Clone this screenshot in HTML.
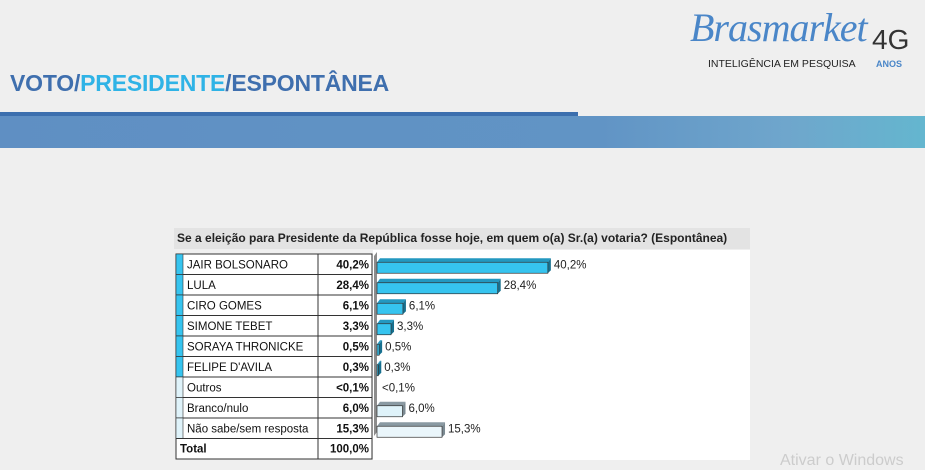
<!DOCTYPE html>
<html><head><meta charset="utf-8"><style>
body{margin:0;width:925px;height:467px;overflow:hidden;background:#efefef;font-family:"Liberation Sans",sans-serif;position:relative}
.t{position:absolute}
</style></head><body>
<div class="t" style="left:10px;top:70px;font-size:23px;font-weight:bold;color:#3f6fae;letter-spacing:-0.2px">VOTO/<span style="color:#2fb3e6">PRESIDENTE</span>/ESPONTÂNEA</div>
<div class="t" style="left:690px;top:4px;font-size:40px;font-style:italic;color:#4a86c8;font-family:'Liberation Serif',serif;letter-spacing:-1px">Brasmarket</div>
<div class="t" style="left:872px;top:24px;font-size:28px;color:#333">4G</div>
<div class="t" style="left:708px;top:58px;font-size:10.5px;color:#222">INTELIGÊNCIA EM PESQUISA</div>
<div class="t" style="left:876px;top:59px;font-size:9px;color:#4a86c8;font-weight:bold">ANOS</div>
<div class="t" style="left:0;top:112px;width:578px;height:5px;background:#3c6fae"></div>
<div class="t" style="left:0;top:116px;width:925px;height:32px;background:linear-gradient(90deg,#5f8fc3 0%,#6194c5 65%,#6fa6cc 85%,#64b6cf 100%)"></div>
<div class="t" style="left:174px;top:228px;width:576px;height:21px;background:#e3e3e3"></div>
<div class="t" style="left:177px;top:231px;font-size:12px;font-weight:bold;color:#222">Se a eleição para Presidente da República fosse hoje, em quem o(a) Sr.(a) votaria? (Espontânea)</div>
<div class="t" style="left:373px;top:250px;width:377px;height:210px;background:#fff"></div>
<svg class="t" style="left:0;top:0" width="925" height="467" font-family="Liberation Sans, sans-serif" font-size="11.5">
<g id="tab"></g>
</svg>
<script>
(function(){
const rows=[["JAIR BOLSONARO","40,2%",40.2,"#36c4ef"],["LULA","28,4%",28.4,"#36c4ef"],["CIRO GOMES","6,1%",6.1,"#36c4ef"],["SIMONE TEBET","3,3%",3.3,"#36c4ef"],["SORAYA THRONICKE","0,5%",0.5,"#36c4ef"],["FELIPE D'AVILA","0,3%",0.3,"#36c4ef"],["Outros","<0,1%",0,"#dff3fa"],["Branco/nulo","6,0%",6.0,"#dff3fa"],["Não sabe/sem resposta","15,3%",15.3,"#eaf6fb"]];
let s='';const T=254,h=20.5;
s+=`<rect x="176" y="${T}" width="196" height="${h*10}" fill="#fff" stroke="#333"/>`;
s+=`<polygon points="374,256 377,252 377,432 374,436" fill="#8c8c8c"/>`;
rows.forEach((r,i)=>{const y=T+i*h,c=y+h/2;
s+=`<rect x="176" y="${y}" width="7" height="${h}" fill="${i<6?'#36c4ef':'#dff3fa'}" stroke="#333" stroke-width="0.6"/>`;
s+=`<line x1="176" y1="${y+h}" x2="372" y2="${y+h}" stroke="#333"/>`;
s+=`<text x="187" y="${c+4}" fill="#111">${r[0].replace('<','&lt;')}</text>`;
s+=`<text x="369" y="${c+4}" text-anchor="end" font-weight="bold" fill="#111">${r[1].replace('<','&lt;')}</text>`;
const w=r[2]*4.25,bx=377;
if(w>0){s+=`<polygon points="${bx},${c-2} ${bx+3},${c-6} ${bx+w+3},${c-6} ${bx+w},${c-2}" fill="${i<6?'#2398c0':'#8a9aa3'}"/>`;
s+=`<polygon points="${bx+w},${c-2} ${bx+w+3},${c-6} ${bx+w+3},${c+6} ${bx+w},${c+9}" fill="${i<6?'#17708f':'#7b8a92'}"/>`;
s+=`<rect x="${bx}" y="${c-2}" width="${w}" height="11" fill="${r[3]}" stroke="#333" stroke-width="0.7"/>`;}
s+=`<text x="${bx+w+(w>0?6:5)}" y="${c+4}" fill="#222">${r[1].replace('<','&lt;')}</text>`;
});
const ty=T+9*h;
s+=`<text x="180" y="${ty+14}" font-weight="bold" fill="#111">Total</text><text x="369" y="${ty+14}" text-anchor="end" font-weight="bold" fill="#111">100,0%</text>`;
s+=`<line x1="318" y1="${T}" x2="318" y2="${T+h*10}" stroke="#333"/>`;
document.getElementById('tab').innerHTML=s;
})();
</script>
<div class="t" style="left:780px;top:452px;font-size:16px;color:#ccc">Ativar o Windows</div>
</body></html>
